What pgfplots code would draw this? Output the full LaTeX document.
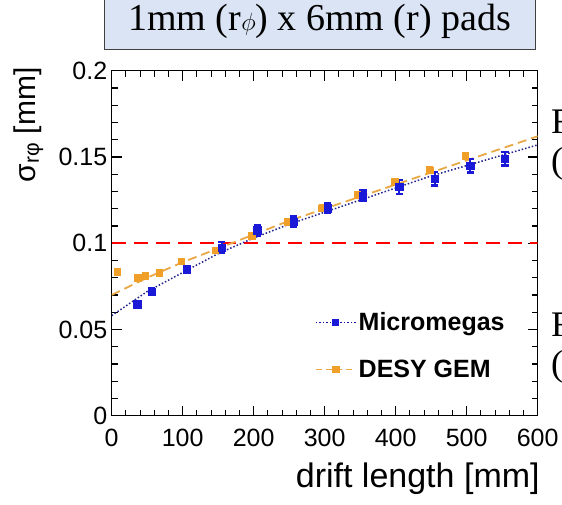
\documentclass[border=0pt]{standalone}
\usepackage{fontspec}
\setmainfont{Liberation Sans}
\newfontfamily\seriffont{Liberation Serif}
\usepackage{pgfplots}
\pgfplotsset{compat=1.18}
\definecolor{mmblue}{RGB}{25,25,215}
\definecolor{mmfit}{RGB}{35,35,140}
\definecolor{gemorange}{RGB}{240,160,40}
\definecolor{gemfit}{RGB}{232,168,70}
\definecolor{boxfill}{RGB}{219,228,244}

\begin{document}
\begin{tikzpicture}
\useasboundingbox (0,0) rectangle (562pt,-505pt);
\begin{axis}[
  at={(111.7pt,-415.7pt)}, anchor=south west,
  scale only axis, width=426pt, height=345pt,
  xmin=0, xmax=600, ymin=0, ymax=0.2,
  xtick={0,100,...,600}, ytick={0,0.05,0.1,0.15,0.2},
  minor x tick num=4, minor y tick num=4,
  tick align=inside, tick pos=both,
  axis line style={line width=1.3pt},
  every tick/.style={black, line width=1.1pt},
  major tick length=10pt, minor tick length=6pt,
  scaled y ticks=false,
  yticklabel style={/pgf/number format/fixed, /pgf/number format/precision=2, xshift=-1pt},
  xticklabel style={yshift=-10pt},
  tick label style={font=\fontsize{25}{28}\selectfont},
  /pgf/number format/assume math mode=true,
  title={\seriffont 1mm (r$\phi$) x 6mm (r) pads},
  title style={font=\fontsize{38}{42}\selectfont, at={(axis description cs:0.5,1)}, anchor=south,
    yshift=15pt, xshift=-5pt, draw=black!75, line width=1.2pt, fill=boxfill,
    minimum width=431pt, minimum height=56pt, inner sep=0pt},
  xlabel={drift length [mm]},
  xlabel style={font=\fontsize{34}{38}\selectfont, at={(axis description cs:1.005,0)}, anchor=north east, yshift=-47pt, inner sep=0pt},
  ylabel={σ\textsubscript{rφ} [mm]},
  ylabel style={font=\fontsize{30}{33}\selectfont, at={(axis description cs:-0.196,1.01)}, anchor=east, inner sep=0pt},
  legend style={at={(axis description cs:0.47,0.311)}, anchor=north west, draw=none, fill=none,
    font=\bfseries\fontsize{25}{28}\selectfont, row sep=24pt},
  legend cell align=left,
  legend image code/.code={
    \draw[#1, mark=none] (0pt,0pt) -- (40pt,0pt);
    \draw[#1, only marks] plot coordinates {(20pt,0pt)};
  },
]
\addlegendimage{mmblue!80!black, dotted, line width=1.5pt, mark=square*, mark size=2.8pt, mark options={solid, mmblue}}
\addlegendentry{Micromegas}
\addlegendimage{gemfit, dash pattern=on 6pt off 4pt, line width=1.6pt, mark=square*, mark size=2.8pt, mark options={solid, gemorange}}
\addlegendentry{DESY GEM}

% requirement line
\addplot[red, line width=2.5pt, dash pattern=on 14pt off 8pt, forget plot] coordinates {(0,0.1) (600,0.1)};

% fits
\addplot[gemfit, line width=1.8pt, dash pattern=on 9pt off 5pt, forget plot] coordinates {
  (0,0.070) (50,0.080) (100,0.089) (150,0.097) (200,0.105) (250,0.113) (300,0.120)
  (350,0.127) (400,0.134) (450,0.141) (500,0.148) (550,0.155) (600,0.162)};
\addplot[mmfit, line width=1.5pt, dotted, forget plot] coordinates {
  (0,0.058) (50,0.072) (100,0.083) (150,0.094) (200,0.103) (250,0.111) (300,0.118)
  (350,0.125) (400,0.132) (450,0.139) (500,0.145) (550,0.151) (600,0.157)};

% DESY GEM
\addplot[only marks, mark=square*, mark size=3.3pt, gemorange, forget plot,
  error bars/.cd, y dir=both, y explicit,
  error bar style={line width=2pt, gemorange},
  error mark options={rotate=90, mark size=3.3pt, line width=2pt, gemorange}]
coordinates {
  (8,0.0834) +- (0,0.0015) (37,0.080) +- (0,0.0015) (47,0.081) +- (0,0.0015)
  (67,0.083) +- (0,0.0015) (98,0.0895) +- (0,0.0015) (146,0.096) +- (0,0.0015)
  (197,0.1044) +- (0,0.0015) (247,0.1126) +- (0,0.0015) (296,0.1204) +- (0,0.0015)
  (346,0.128) +- (0,0.0015) (399,0.1356) +- (0,0.0015) (448,0.1424) +- (0,0.0015)
  (498,0.1508) +- (0,0.0015)};

% Micromegas
\addplot[only marks, mark=square*, mark size=3.6pt, mmblue, forget plot,
  error bars/.cd, y dir=both, y explicit,
  error bar style={line width=2.2pt, mmblue},
  error mark options={rotate=90, mark size=3.6pt, line width=2.2pt, mmblue}]
coordinates {
  (36,0.0646) +- (0,0.002) (56,0.0718) +- (0,0.002) (106,0.085) +- (0,0.002)
  (155,0.0975) +- (0,0.003) (205,0.1075) +- (0,0.003) (256,0.1125) +- (0,0.003)
  (304,0.1203) +- (0,0.003) (354,0.1275) +- (0,0.003) (405,0.1327) +- (0,0.004)
  (455,0.1375) +- (0,0.004) (505,0.1450) +- (0,0.004) (554,0.1490) +- (0,0.004)};
\end{axis}
% slide text cut off at the right edge
\node[font=\seriffont\fontsize{36}{40}\selectfont, anchor=west, inner sep=0pt] at (551pt,-122pt) {F};
\node[font=\seriffont\fontsize{36}{40}\selectfont, anchor=west, inner sep=0pt] at (551pt,-164pt) {(};
\node[font=\seriffont\fontsize{36}{40}\selectfont, anchor=west, inner sep=0pt] at (551pt,-325pt) {F};
\node[font=\seriffont\fontsize{36}{40}\selectfont, anchor=west, inner sep=0pt] at (551pt,-367pt) {(};
\end{tikzpicture}
\end{document}
